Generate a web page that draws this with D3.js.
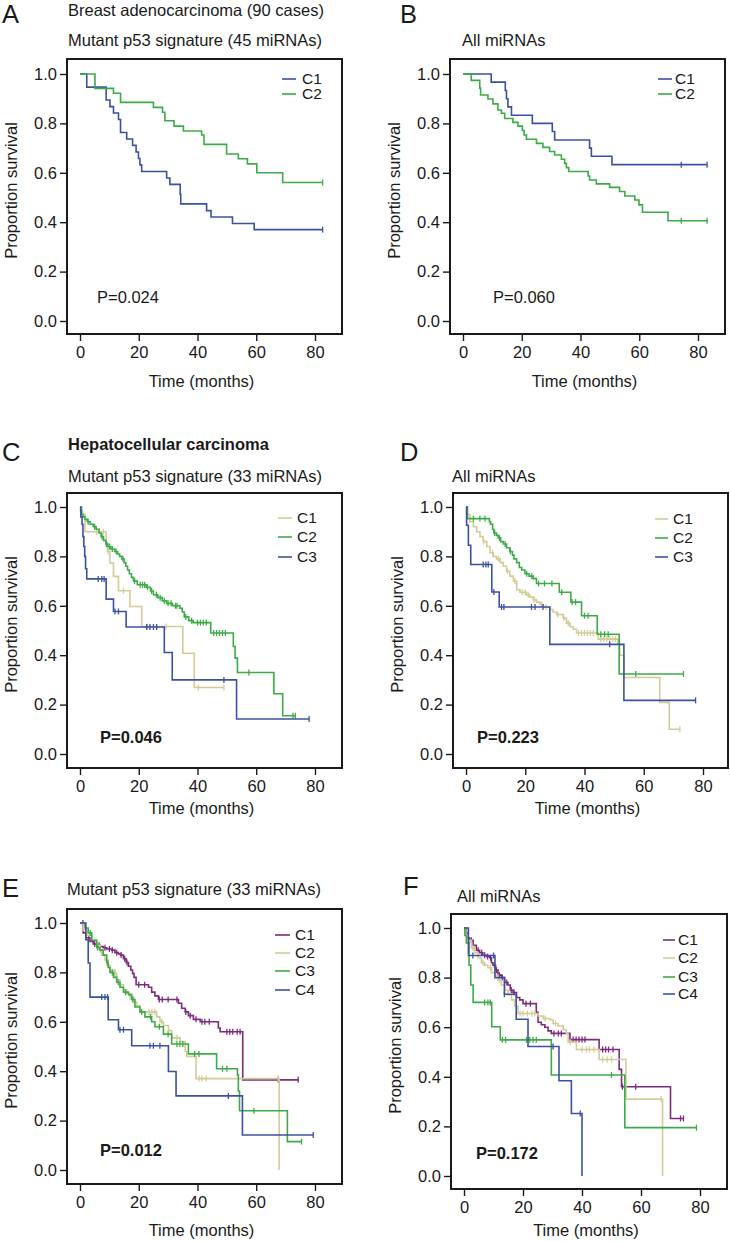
<!DOCTYPE html>
<html><head><meta charset="utf-8">
<script src="https://cdn.jsdelivr.net/npm/d3@7/dist/d3.min.js"></script>
<style>
html,body{margin:0;padding:0;background:#fff;}
svg{display:block;}
text{font-family:"Liberation Sans",Arial,Helvetica,sans-serif;fill:#1a1a1a;}
</style></head>
<body>
<svg id="chart" width="730" height="1242"></svg>
<script>
// ---------------- DATA ----------------
const groupNames2 = ["C1","C2"];
const groupNames3 = ["C1","C2","C3"];
const groupNames4 = ["C1","C2","C3","C4"];
const xTicks = [0,20,40,60,80];
const yTicks = [0,0.2,0.4,0.6,0.8,1.0];
const pValues = ["P=0.024","P=0.060","P=0.046","P=0.223","P=0.012","P=0.172"];

// Panel A (breast, mutant p53 signature)
const aC1Time = [2.3,8.9,10.2,11.4,13.1,13.8,15.9,17.9,19.1,19.9,20.4,21.0,29.5,30.6,34.1,34.3,43.1,44.6,51.9,59.3];
const aC1Surv = [0.947,0.895,0.868,0.842,0.816,0.763,0.737,0.711,0.684,0.658,0.632,0.605,0.579,0.553,0.513,0.474,0.447,0.421,0.395,0.370];
const aC1Cens = [82.6];
const aC2Time = [5.1,11.4,13.8,25.0,28.1,28.9,32.0,35.2,41.4,42.2,49.9,53.9,57.0,60.2,69.0];
const aC2Surv = [0.942,0.922,0.885,0.865,0.845,0.811,0.789,0.769,0.753,0.715,0.676,0.657,0.636,0.600,0.561];
const aC2Cens = [82.6];

// Panel B (breast, all miRNAs)
const bC1Time = [9.6,14.4,14.8,15.3,16.5,23.6,30.4,31.2,43.1,43.7,50.7];
const bC1Surv = [0.967,0.933,0.900,0.867,0.833,0.800,0.767,0.733,0.700,0.667,0.633];
const bC1Cens = [74.3,83.1];
const bC2Time = [2.8,5.7,6.0,8.5,10.2,11.9,13.1,14.2,17.0,18.7,20.2,20.8,21.6,25.0,27.2,29.5,31.2,33.5,34.6,35.2,36.0,42.6,43.1,45.4,49.9,53.3,55.1,58.5,59.9,61.1,69.8];
const bC2Surv = [0.974,0.943,0.915,0.899,0.879,0.854,0.841,0.820,0.804,0.789,0.771,0.753,0.736,0.719,0.703,0.686,0.672,0.655,0.638,0.621,0.605,0.587,0.571,0.555,0.541,0.524,0.506,0.490,0.470,0.440,0.406];
const bC2Cens = [74.3,83.1];

// Panel C (liver, mutant p53 signature)
const cC1Time = [0.8,1.7,8.9,9.3,10.2,11.4,13.1,17.0,21.0,35.0,38.9];
const cC1Surv = [0.97,0.90,0.855,0.82,0.773,0.719,0.661,0.597,0.516,0.408,0.269];
const cC1Cens = [5.7,7.9,9.6,14.8,23.0,29.3,40.3,49.0];
const cC2Time = [0.2,0.5,1.0,1.7,2.5,3.5,4.5,5.5,6.5,7.2,8.0,8.8,9.5,10.5,11.8,12.8,13.5,14.2,15.0,15.6,16.2,16.8,17.5,18.2,19.5,22.5,24.0,25.0,26.5,28.0,29.5,31.5,34.0,34.8,35.5,37.0,38.5,44.5,52.2,52.8,53.6,66.0,69.0];
const cC2Surv = [0.985,0.97,0.96,0.95,0.94,0.93,0.92,0.91,0.895,0.88,0.865,0.85,0.84,0.83,0.82,0.81,0.80,0.79,0.775,0.76,0.745,0.73,0.715,0.70,0.685,0.675,0.66,0.645,0.633,0.62,0.61,0.60,0.59,0.575,0.555,0.54,0.532,0.49,0.435,0.388,0.33,0.244,0.155];
const cC2Cens = [2.8,5.0,7.5,9.0,10.0,11.0,12.3,14.6,18.6,20.5,21.3,22.0,23.0,24.4,26.0,27.3,28.7,30.0,31.0,32.5,33.0,36.0,38.0,40.0,41.0,42.0,43.0,45.5,46.5,47.5,48.5,49.5,57.5,72.5,73.3];
const cC3Time = [0.3,0.7,1.0,1.3,1.6,1.9,2.3,8.9,11.4,15.7,28.7,31.4,53.3];
const cC3Surv = [0.96,0.93,0.88,0.84,0.80,0.75,0.709,0.627,0.577,0.514,0.411,0.30,0.142];
const cC3Cens = [6.2,7.4,8.2,11.9,13.1,22.7,23.8,25.0,26.1,49.0,78.0];

// Panel D (liver, all miRNAs)
const dC1Time = [0.2,1.3,2.5,3.6,4.7,5.8,7.0,8.1,9.2,10.3,11.5,12.6,13.7,14.8,16.0,17.1,18.2,20.4,21.6,22.7,23.8,24.9,26.1,28.3,29.4,30.6,32.8,33.9,35.1,36.2,37.3,44.6,51.3,51.9,53.3,65.4,68.6];
const dC1Surv = [0.97,0.94,0.92,0.90,0.88,0.86,0.84,0.815,0.80,0.79,0.775,0.76,0.74,0.72,0.70,0.665,0.655,0.645,0.635,0.625,0.615,0.605,0.595,0.585,0.575,0.565,0.55,0.53,0.515,0.505,0.49,0.465,0.45,0.40,0.31,0.209,0.10];
const dC1Cens = [6.0,9.0,11.0,14.0,16.5,19.0,20.0,21.0,23.0,25.5,27.0,31.0,33.0,34.5,38.0,39.0,40.0,41.0,42.0,43.0,45.5,46.5,47.5,48.5,49.5,50.5,72.2];
const dC2Time = [0.5,7.9,8.3,9.0,9.4,10.3,10.9,11.7,12.6,13.7,14.8,15.7,16.2,17.1,18.0,18.8,19.9,21.3,22.7,23.8,31.5,35.4,39.0,44.3,51.7];
const dC2Surv = [0.953,0.94,0.93,0.91,0.895,0.885,0.875,0.86,0.85,0.835,0.82,0.805,0.79,0.775,0.755,0.745,0.73,0.72,0.71,0.69,0.655,0.615,0.56,0.485,0.324];
const dC2Cens = [2.5,4.7,6.4,9.7,11.3,13.2,15.0,20.5,22.2,24.5,26.5,29.0,32.3,35.8,37.0,40.0,41.2,45.5,46.8,48.0,57.3,73.4];
const dC3Time = [0.2,0.8,1.6,8.7,11.2,28.3,53.3];
const dC3Surv = [0.926,0.845,0.767,0.656,0.595,0.444,0.217];
const dC3Cens = [5.8,6.7,7.5,9.4,12.0,12.8,22.1,23.3,26.0,48.5,77.5];

// Panel E (mutant p53 signature, 4 clusters)
const eC1Time = [1.1,2.0,3.4,4.5,5.7,6.8,7.9,9.1,10.8,11.9,13.1,13.8,14.8,15.7,16.5,17.3,17.9,18.4,19.1,23.3,24.4,25.5,26.7,33.5,34.6,35.8,36.9,38.6,40.9,47.1,47.7,55.4];
const eC1Surv = [0.96,0.94,0.925,0.915,0.91,0.905,0.90,0.895,0.89,0.88,0.875,0.87,0.855,0.84,0.825,0.81,0.795,0.78,0.75,0.74,0.72,0.705,0.69,0.675,0.655,0.64,0.625,0.61,0.60,0.575,0.56,0.365];
const eC1Cens = [1.0,3.0,5.0,6.5,8.5,10.0,11.0,12.5,14.0,15.2,16.0,20.0,22.0,27.0,28.0,30.0,33.0,36.0,37.5,39.5,41.5,42.5,44.0,50.0,51.0,52.0,53.5,54.5,67.5,74.3];
const eC2Time = [1.1,2.3,4.0,5.7,6.8,7.4,8.5,9.1,10.2,11.9,12.5,13.6,14.8,15.9,17.0,18.2,19.3,20.4,26.1,27.2,28.4,30.1,31.2,34.1,35.8,36.3,39.5,67.8];
const eC2Surv = [0.97,0.95,0.93,0.91,0.89,0.87,0.85,0.83,0.81,0.795,0.77,0.75,0.73,0.715,0.70,0.68,0.665,0.64,0.62,0.60,0.585,0.565,0.535,0.52,0.48,0.46,0.37,0.0];
const eC2Cens = [7.0,12.0,17.0,23.5,24.5,25.5,27.8,33.0,40.5,41.5,43.0,67.5];
const eC3Time = [1.7,2.8,4.0,5.7,6.8,7.9,9.1,9.6,10.2,11.4,12.5,13.6,14.8,16.5,17.6,18.7,20.4,22.1,24.4,25.5,28.4,31.2,36.9,46.5,53.6,53.9,54.3,70.6];
const eC3Surv = [0.98,0.96,0.93,0.90,0.89,0.87,0.84,0.82,0.80,0.78,0.76,0.74,0.72,0.71,0.69,0.66,0.64,0.62,0.60,0.58,0.55,0.51,0.47,0.41,0.385,0.32,0.24,0.115];
const eC3Cens = [3.5,6.0,9.5,11.0,13.0,15.5,18.0,21.0,24.0,27.0,30.0,33.0,34.0,35.0,39.0,40.5,48.5,50.0,59.2,75.4];
const eC4Time = [2.0,2.8,3.4,9.6,13.1,17.6,30.1,32.7,55.3];
const eC4Surv = [0.932,0.838,0.70,0.608,0.568,0.503,0.399,0.30,0.142];
const eC4Cens = [7.4,8.5,9.4,13.6,14.8,23.8,25.0,27.2,50.5,79.4];

// Panel F (all miRNAs, 4 clusters)
const fC1Time = [0.8,1.4,1.9,3.1,4.2,5.3,6.4,7.6,8.7,9.3,9.8,10.7,11.5,12.7,13.8,14.9,15.7,16.6,17.8,18.9,20.0,24.5,25.1,26.2,27.4,28.5,29.6,35.9,45.8,52.6,53.4,70.0];
const fC1Surv = [0.98,0.96,0.95,0.93,0.91,0.90,0.89,0.885,0.88,0.86,0.85,0.83,0.81,0.80,0.78,0.77,0.75,0.74,0.72,0.71,0.695,0.66,0.62,0.61,0.60,0.585,0.575,0.55,0.51,0.43,0.36,0.232];
const fC1Cens = [2.5,4.8,6.0,7.0,8.0,9.0,10.3,11.0,12.0,13.0,14.5,16.0,17.0,21.0,22.5,30.5,32.0,33.0,37.0,38.0,39.0,40.0,41.0,47.0,48.0,49.0,50.5,53.7,58.2,73.4,74.4];
const fC2Time = [0.6,1.4,2.5,3.6,4.8,5.9,7.0,8.1,9.3,10.4,11.5,12.7,13.8,14.9,16.1,17.2,18.3,25.1,26.8,29.1,30.2,31.9,33.6,34.7,35.3,38.1,45.8,54.9,67.3];
const fC2Surv = [0.97,0.95,0.92,0.90,0.88,0.86,0.85,0.84,0.82,0.81,0.79,0.77,0.75,0.73,0.71,0.685,0.655,0.645,0.635,0.63,0.615,0.605,0.59,0.575,0.54,0.51,0.47,0.31,0.0];
const fC2Cens = [3.0,6.5,9.0,12.0,19.0,20.0,21.5,23.0,24.0,27.5,31.0,36.0,40.0,41.5,42.5,44.0,47.0,48.5,50.0,66.8];
const fC3Time = [0.3,0.8,1.7,2.3,3.1,9.4,12.3,29.6,54.5];
const fC3Surv = [0.97,0.94,0.85,0.77,0.70,0.602,0.549,0.407,0.195];
const fC3Cens = [7.0,8.1,8.9,13.0,14.1,21.2,22.3,23.4,24.5,50.0,78.8];
const fC4Time = [1.5,10.5,13.7,17.7,21.7,32.2,36.4,40.0];
const fC4Surv = [0.889,0.80,0.733,0.632,0.522,0.384,0.252,0.0];
const fC4Cens = [3.0,10.0,13.7,30.2,39.4];

// ---------------- STYLE / LAYOUT ----------------
const COL = {blue:"#3d51a2", green:"#3dab47", tan:"#d3cc98", purple:"#7c2c7f"};
const FONT = 16.5;

function S(time, surv, cens, color){ return {time, surv, cens, color}; }

const panels = [
  {letter:"A", lx:2, ly:23, box:{x:67,y:59,w:275,h:275}, xr:[80,315], yr:[321,74], timeY:387,
   titles:[{t:"Breast adenocarcinoma (90 cases)",x:68,y:16,bold:false},{t:"Mutant p53 signature (45 miRNAs)",x:68,y:46,bold:false}],
   names:groupNames2, series:[S(aC1Time,aC1Surv,aC1Cens,COL.blue),S(aC2Time,aC2Surv,aC2Cens,COL.green)],
   leg:{x1:282,x2:296,tx:302,ys:[84,99]}, p:{t:pValues[0],x:97,y:303,bold:false}},
  {letter:"B", lx:400, ly:23, box:{x:450,y:59,w:275,h:275}, xr:[463,698], yr:[321,74], timeY:387,
   titles:[{t:"All miRNAs",x:462,y:46,bold:false}],
   names:groupNames2, series:[S(bC1Time,bC1Surv,bC1Cens,COL.blue),S(bC2Time,bC2Surv,bC2Cens,COL.green)],
   leg:{x1:658,x2:672,tx:675,ys:[84,99]}, p:{t:pValues[1],x:493,y:303,bold:false}},
  {letter:"C", lx:2, ly:461, box:{x:67,y:493,w:275,h:275}, xr:[80,315], yr:[754,507], timeY:814,
   titles:[{t:"Hepatocellular carcinoma",x:68,y:450,bold:true},{t:"Mutant p53 signature (33 miRNAs)",x:68,y:482,bold:false}],
   names:groupNames3, series:[S(cC1Time,cC1Surv,cC1Cens,COL.tan),S(cC2Time,cC2Surv,cC2Cens,COL.green),S(cC3Time,cC3Surv,cC3Cens,COL.blue)],
   leg:{x1:278,x2:292,tx:297,ys:[523,542,562]}, p:{t:pValues[2],x:100,y:743,bold:true}},
  {letter:"D", lx:400, ly:461, box:{x:453,y:493,w:275,h:275}, xr:[466,703], yr:[754,507], timeY:814,
   titles:[{t:"All miRNAs",x:452,y:482,bold:false}],
   names:groupNames3, series:[S(dC1Time,dC1Surv,dC1Cens,COL.tan),S(dC2Time,dC2Surv,dC2Cens,COL.green),S(dC3Time,dC3Surv,dC3Cens,COL.blue)],
   leg:{x1:655,x2:668,tx:673,ys:[524,543,562]}, p:{t:pValues[3],x:477,y:743,bold:true}},
  {letter:"E", lx:2, ly:897, box:{x:67,y:909,w:275,h:275}, xr:[80,315], yr:[1170,923], timeY:1236,
   titles:[{t:"Mutant p53 signature (33 miRNAs)",x:67,y:895,bold:false}],
   names:groupNames4, series:[S(eC1Time,eC1Surv,eC1Cens,COL.purple),S(eC2Time,eC2Surv,eC2Cens,COL.tan),S(eC3Time,eC3Surv,eC3Cens,COL.green),S(eC4Time,eC4Surv,eC4Cens,COL.blue)],
   leg:{x1:275,x2:290,tx:295,ys:[940,958,976,995]}, p:{t:pValues[4],x:100,y:1156,bold:true}},
  {letter:"F", lx:403, ly:895, box:{x:451,y:914,w:276,h:275}, xr:[464,700], yr:[1176,928], timeY:1236,
   titles:[{t:"All miRNAs",x:457,y:902,bold:false}],
   names:groupNames4, series:[S(fC1Time,fC1Surv,fC1Cens,COL.purple),S(fC2Time,fC2Surv,fC2Cens,COL.tan),S(fC3Time,fC3Surv,fC3Cens,COL.green),S(fC4Time,fC4Surv,fC4Cens,COL.blue)],
   leg:{x1:663,x2:675,tx:678,ys:[945,963,982,999]}, p:{t:pValues[5],x:476,y:1159,bold:true}}
];

// ---------------- DRAW ----------------
const svg = d3.select("#chart");

function survAt(s, t){
  let v = 1;
  for (let i=0;i<s.time.length;i++){ if (s.time[i] <= t) v = s.surv[i]; else break; }
  return v;
}

panels.forEach(p => {
  const g = svg.append("g");
  const x = d3.scaleLinear().domain([0,80]).range(p.xr);
  const y = d3.scaleLinear().domain([0,1]).range(p.yr);
  const b = p.box;

  // letter
  g.append("text").attr("x",p.lx).attr("y",p.ly).attr("font-size",25.5).text(p.letter);
  // titles
  p.titles.forEach(tt => {
    g.append("text").attr("x",tt.x).attr("y",tt.y).attr("font-size",FONT)
      .attr("font-weight",tt.bold?"bold":"normal").text(tt.t);
  });

  // curves
  const line = d3.line().x(d=>x(d[0])).y(d=>y(d[1])).curve(d3.curveStepAfter);
  p.series.forEach(s => {
    const endT = Math.max(d3.max(s.cens), s.time[s.time.length-1]);
    const pts = [[0,1]].concat(s.time.map((t,i)=>[t,s.surv[i]]));
    pts.push([endT, survAt(s,endT)]);
    g.append("path").attr("d", line(pts)).attr("fill","none")
      .attr("stroke", s.color).attr("stroke-width",1.6);
    g.selectAll(null).data(s.cens).enter().append("line")
      .attr("x1", d=>x(d)).attr("x2", d=>x(d))
      .attr("y1", d=>y(survAt(s,d))-3).attr("y2", d=>y(survAt(s,d))+3)
      .attr("stroke", s.color).attr("stroke-width",1.3);
  });

  // box
  g.append("rect").attr("x",b.x).attr("y",b.y).attr("width",b.w).attr("height",b.h)
    .attr("fill","none").attr("stroke","#1a1a1a").attr("stroke-width",2);

  // axes
  const xa = g.append("g").attr("transform",`translate(0,${b.y+b.h+1})`)
    .call(d3.axisBottom(x).tickValues(xTicks).tickSize(6).tickPadding(5).tickSizeOuter(0));
  const ya = g.append("g").attr("transform",`translate(${b.x-1},0)`)
    .call(d3.axisLeft(y).tickValues(yTicks).tickFormat(d3.format(".1f")).tickSize(6).tickPadding(3).tickSizeOuter(0));
  [xa,ya].forEach(a => {
    a.select(".domain").remove();
    a.selectAll("line").attr("stroke","#1a1a1a").attr("stroke-width",1.4);
    a.selectAll("text").attr("font-size",FONT).attr("font-family",'"Liberation Sans",Arial,sans-serif').attr("fill","#1a1a1a");
  });

  // axis titles
  g.append("text").attr("x", b.x + b.w/2 - 3).attr("y", p.timeY)
    .attr("text-anchor","middle").attr("font-size",FONT).text("Time (months)");
  g.append("text").attr("transform",`translate(${b.x-50},${b.y+b.h/2-6}) rotate(-90)`)
    .attr("text-anchor","middle").attr("font-size",FONT).text("Proportion survival");

  // legend
  p.names.forEach((n,i) => {
    const yy = p.leg.ys[i];
    g.append("line").attr("x1",p.leg.x1).attr("x2",p.leg.x2).attr("y1",yy-5).attr("y2",yy-5)
      .attr("stroke",p.series[i].color).attr("stroke-width",1.6);
    g.append("text").attr("x",p.leg.tx).attr("y",yy).attr("font-size",15.5).text(n);
  });

  // p value
  g.append("text").attr("x",p.p.x).attr("y",p.p.y).attr("font-size",FONT)
    .attr("font-weight",p.p.bold?"bold":"normal").text(p.p.t);
});
</script>
</body></html>
